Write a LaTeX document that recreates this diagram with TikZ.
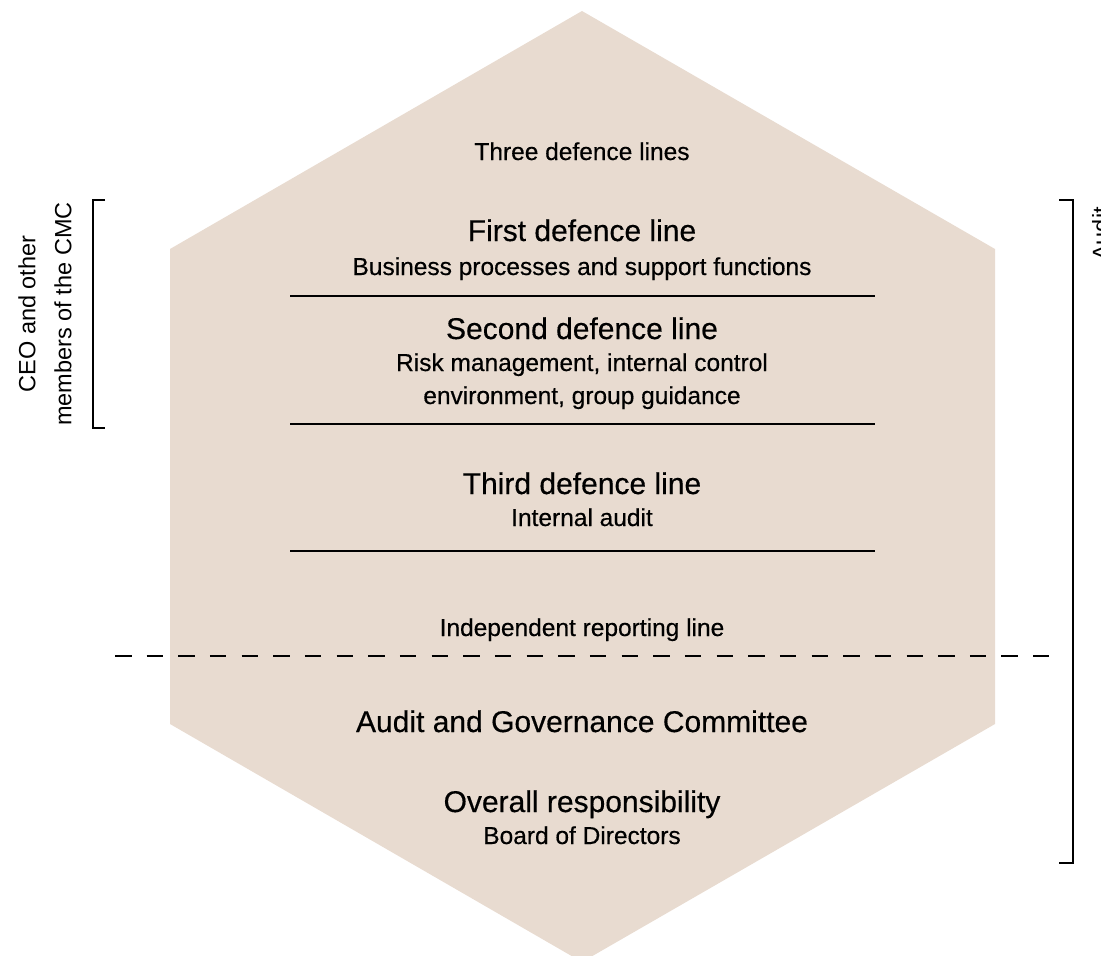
\documentclass[tikz,border=0pt]{standalone}
\usepackage{fontspec}
\setmainfont{Liberation Sans}[BoldFont=Liberation Sans, BoldFeatures={FakeBold=0.4}]
\definecolor{hexfill}{RGB}{232,219,208}
\begin{document}
\begin{tikzpicture}[x=1pt,y=-1pt,
  small/.style={font=\fontsize{24.5}{33}\selectfont\bfseries, anchor=base, inner sep=0pt},
  big/.style={font=\fontsize{30}{36}\selectfont\bfseries, anchor=base, inner sep=0pt},
  rule/.style={line width=2.6pt},
  bracket/.style={line width=2.6pt},
  side/.style={font=\fontsize{23.5}{36}\selectfont, rotate=90, align=center, inner sep=0pt}]
\useasboundingbox (0,0) rectangle (1101,956);
\fill[hexfill] (582,11) -- (995,249) -- (995,724) -- (582,962) -- (170,724) -- (170,249) -- cycle;
% rules
\coordinate (r1l) at (290,296); \coordinate (r1r) at (875,296);
\coordinate (r2l) at (290,424); \coordinate (r2r) at (875,424);
\coordinate (r3l) at (290,551); \coordinate (r3r) at (875,551);
\draw[rule] (r1l) -- (r1r);
\draw[rule] (r2l) -- (r2r);
\draw[rule] (r3l) -- (r3r);
% dashed line
\coordinate (d1) at (115,656); \coordinate (d2) at (1049,656);
\draw[line width=2.2pt, dash pattern=on 16.5pt off 15.16pt] (d1) -- (d2);
% brackets
\coordinate (lb1) at (105,200); \coordinate (lb2) at (93,200);
\coordinate (lb3) at (93,428); \coordinate (lb4) at (105,428);
\draw[bracket] (lb1) -- (lb2) -- (lb3) -- (lb4);
\coordinate (rb1) at (1059,200); \coordinate (rb2) at (1073,200);
\coordinate (rb3) at (1073,863); \coordinate (rb4) at (1059,863);
\draw[bracket] (rb1) -- (rb2) -- (rb3) -- (rb4);
% texts
\node[small] (t0) at (582,160) {Three defence lines};
\node[big] (t1) at (582,241) {First defence line};
\node[small] (t1s) at (582,275) {Business processes and support functions};
\node[big] (t2) at (582,339) {Second defence line};
\node[small] (t2a) at (582,371) {Risk management, internal control};
\node[small] (t2b) at (582,404) {environment, group guidance};
\node[big] (t3) at (582,494) {Third defence line};
\node[small] (t3s) at (582,526) {Internal audit};
\node[small] (ir) at (582,636) {Independent reporting line};
\node[big] (agc) at (582,732) {Audit and Governance Committee};
\node[big] (or) at (582,812) {Overall responsibility};
\node[small] (bod) at (582,844) {Board of Directors};
\node[side] (ceo) at (45,314) {CEO and other\\members of the CMC};
\node[side, anchor=north east] (aud) at (1092,207) {Audit};
\end{tikzpicture}
\end{document}
